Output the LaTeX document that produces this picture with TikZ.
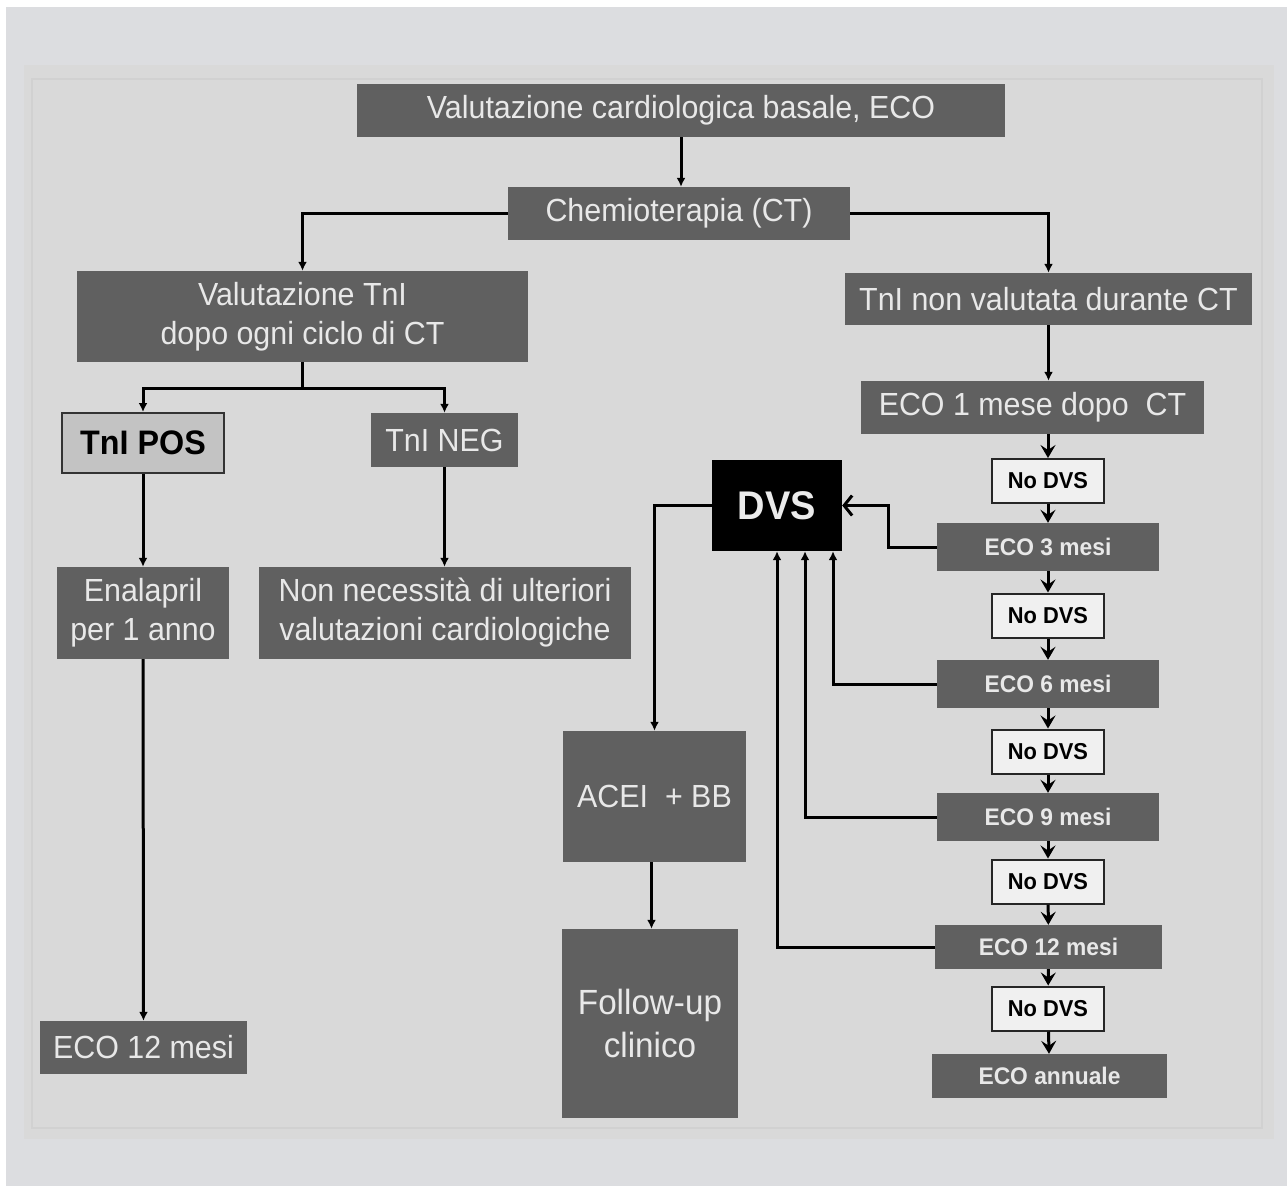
\documentclass[tikz,border=0pt]{standalone}
\usepackage{fontspec}
\setmainfont{Liberation Sans}[FakeStretch=0.95]
\usetikzlibrary{positioning,arrows.meta}
\definecolor{boxgray}{HTML}{606060}
\definecolor{boxtext}{HTML}{E8E8E8}
\definecolor{outerbg}{HTML}{DCDDE0}
\definecolor{panelbg}{HTML}{D9D9D9}
\definecolor{panelline}{HTML}{D1D1D1}
\definecolor{posgray}{HTML}{C3C3C3}
\tikzset{
  arr/.style={-{Latex[length=9pt,width=9pt]},line width=3pt},
  chainarr/.style={-{Stealth[length=13pt,width=15pt,inset=5pt]},line width=3pt},
  backarr/.style={-{Straight Barb[length=8pt,width=20pt,line width=3pt]},line width=3pt},
  block/.style={fill=boxgray,text=boxtext,align=center,inner sep=0pt,
                font=\fontsize{32}{39}\selectfont},
  ecobox/.style={block,minimum width=222pt,minimum height=48pt,
                 font=\fontsize{24}{30}\selectfont\bfseries},
  nodvs/.style={draw=black!85,line width=2pt,fill=white!94!black,inner sep=0pt,
                minimum width=112pt,minimum height=44pt,
                font=\fontsize{23}{28}\selectfont\bfseries}
}
\begin{document}
\begin{tikzpicture}[x=1pt,y=-1pt]
\useasboundingbox (0,0) rectangle (1287,1186);
\fill[white] (0,0) rectangle (1287,1186);
\fill[outerbg] (6,7) rectangle (1287,1186);
\fill[panelbg] (24,65) rectangle (1274,1139);
\draw[panelline,line width=2pt] (32,79) rectangle (1262,1128);

% left branch
\node[block, minimum width=648pt, minimum height=53pt] (base) at (681,110.5) {Valutazione cardiologica basale, ECO};
\node[block, minimum width=342pt, minimum height=53pt] (chemo) at (679,213.5) {Chemioterapia (CT)};
\node[block, minimum width=451pt, minimum height=91pt] (valtni) at (302.5,316.5) {Valutazione TnI\\dopo ogni ciclo di CT};
\node[block, draw=black!80, line width=2pt, fill=posgray, text=black, minimum width=162pt, minimum height=60pt,
      font=\fontsize{34}{40}\selectfont\bfseries] (tnipos) at (143,443) {TnI POS};
\node[block, minimum width=147pt, minimum height=54pt] (tnineg) at (444.5,440) {TnI NEG};
\node[block, minimum width=172pt, minimum height=92pt] (enal) at (143,613) {Enalapril\\per 1 anno};
\node[block, minimum width=372pt, minimum height=92pt] (nonnec) at (445,613) {Non necessità di ulteriori\\valutazioni cardiologiche};
\node[block, minimum width=207pt, minimum height=53pt] (ecoleft) at (143.5,1047.5) {ECO 12 mesi};

% right branch
\node[block, minimum width=407pt, minimum height=52pt] (tninon) at (1048.5,299) {TnI non valutata durante CT};
\node[block, minimum width=343pt, minimum height=53pt] (ecoone) at (1032.5,407.5) {ECO 1 mese dopo~ CT};
\node[nodvs] (nodvsa) at (1048,481) {No DVS};
\node[ecobox] (ecothree) at (1048,547) {ECO 3 mesi};
\node[nodvs] (nodvsb) at (1048,615.5) {No DVS};
\node[ecobox] (ecosix) at (1048,684) {ECO 6 mesi};
\node[nodvs] (nodvsc) at (1048,751.5) {No DVS};
\node[ecobox] (econine) at (1048,817) {ECO 9 mesi};
\node[nodvs] (nodvsd) at (1048,881.5) {No DVS};
\node[ecobox, minimum width=227pt, minimum height=44pt] (ecotwelve) at (1048.5,947) {ECO 12 mesi};
\node[nodvs] (nodvse) at (1048,1008.5) {No DVS};
\node[ecobox, minimum width=235pt, minimum height=44pt] (ecoyear) at (1049.5,1076) {ECO annuale};

\node[block, fill=black, text=white!92!black, minimum width=130pt, minimum height=91pt,
      font=\fontsize{40}{48}\selectfont\bfseries] (dvs) at (777,505.5) {DVS};
\node[block, minimum width=183pt, minimum height=131pt] (acei) at (654.5,796.5) {ACEI~ + BB};
\node[block, minimum width=176pt, minimum height=189pt, font=\fontsize{35}{43}\selectfont] (follow) at (650,1023.5) {Follow-up\\clinico};

\coordinate (split) at (302.5,388);

\draw[arr] (base.south) -- (base.south |- chemo.north);
\draw[arr] (chemo.west) -| (valtni.north);
\draw[arr] (chemo.east) -| (tninon.north);
\draw[line width=3pt] (valtni.south) -- (split);
\draw[arr] (split) -| (tnipos.north);
\draw[arr] (split) -| (tnineg.north);
\draw[arr] (tnipos) -- (enal);
\draw[arr] (tnineg.south) -- (tnineg.south |- nonnec.north);
\draw[arr] (enal) -- (ecoleft);

\draw[arr] (tninon.south) -- (tninon.south |- ecoone.north);
\draw[chainarr] (ecoone.south -| nodvsa) -- (nodvsa);
\draw[chainarr] (nodvsa) -- (ecothree);
\draw[chainarr] (ecothree) -- (nodvsb);
\draw[chainarr] (nodvsb) -- (ecosix);
\draw[chainarr] (ecosix) -- (nodvsc);
\draw[chainarr] (nodvsc) -- (econine);
\draw[chainarr] (econine) -- (nodvsd);
\draw[chainarr] (nodvsd) -- (ecotwelve);
\draw[chainarr] (ecotwelve) -- (nodvse);
\draw[chainarr] (nodvse) -- (ecoyear);

\draw[backarr] (ecothree.west) -- ++(-48,0) |- (dvs.east);
\draw[arr] (ecosix.west) -| ([xshift=56pt]dvs.south);
\draw[arr] (econine.west) -| ([xshift=28pt]dvs.south);
\draw[arr] (ecotwelve.west) -| (dvs.south);
\draw[arr] (dvs.west) -| (acei.north);
\draw[arr] ([xshift=-3pt]acei.south) -- ([xshift=-3pt]acei.south |- follow.north);
\end{tikzpicture}
\end{document}
